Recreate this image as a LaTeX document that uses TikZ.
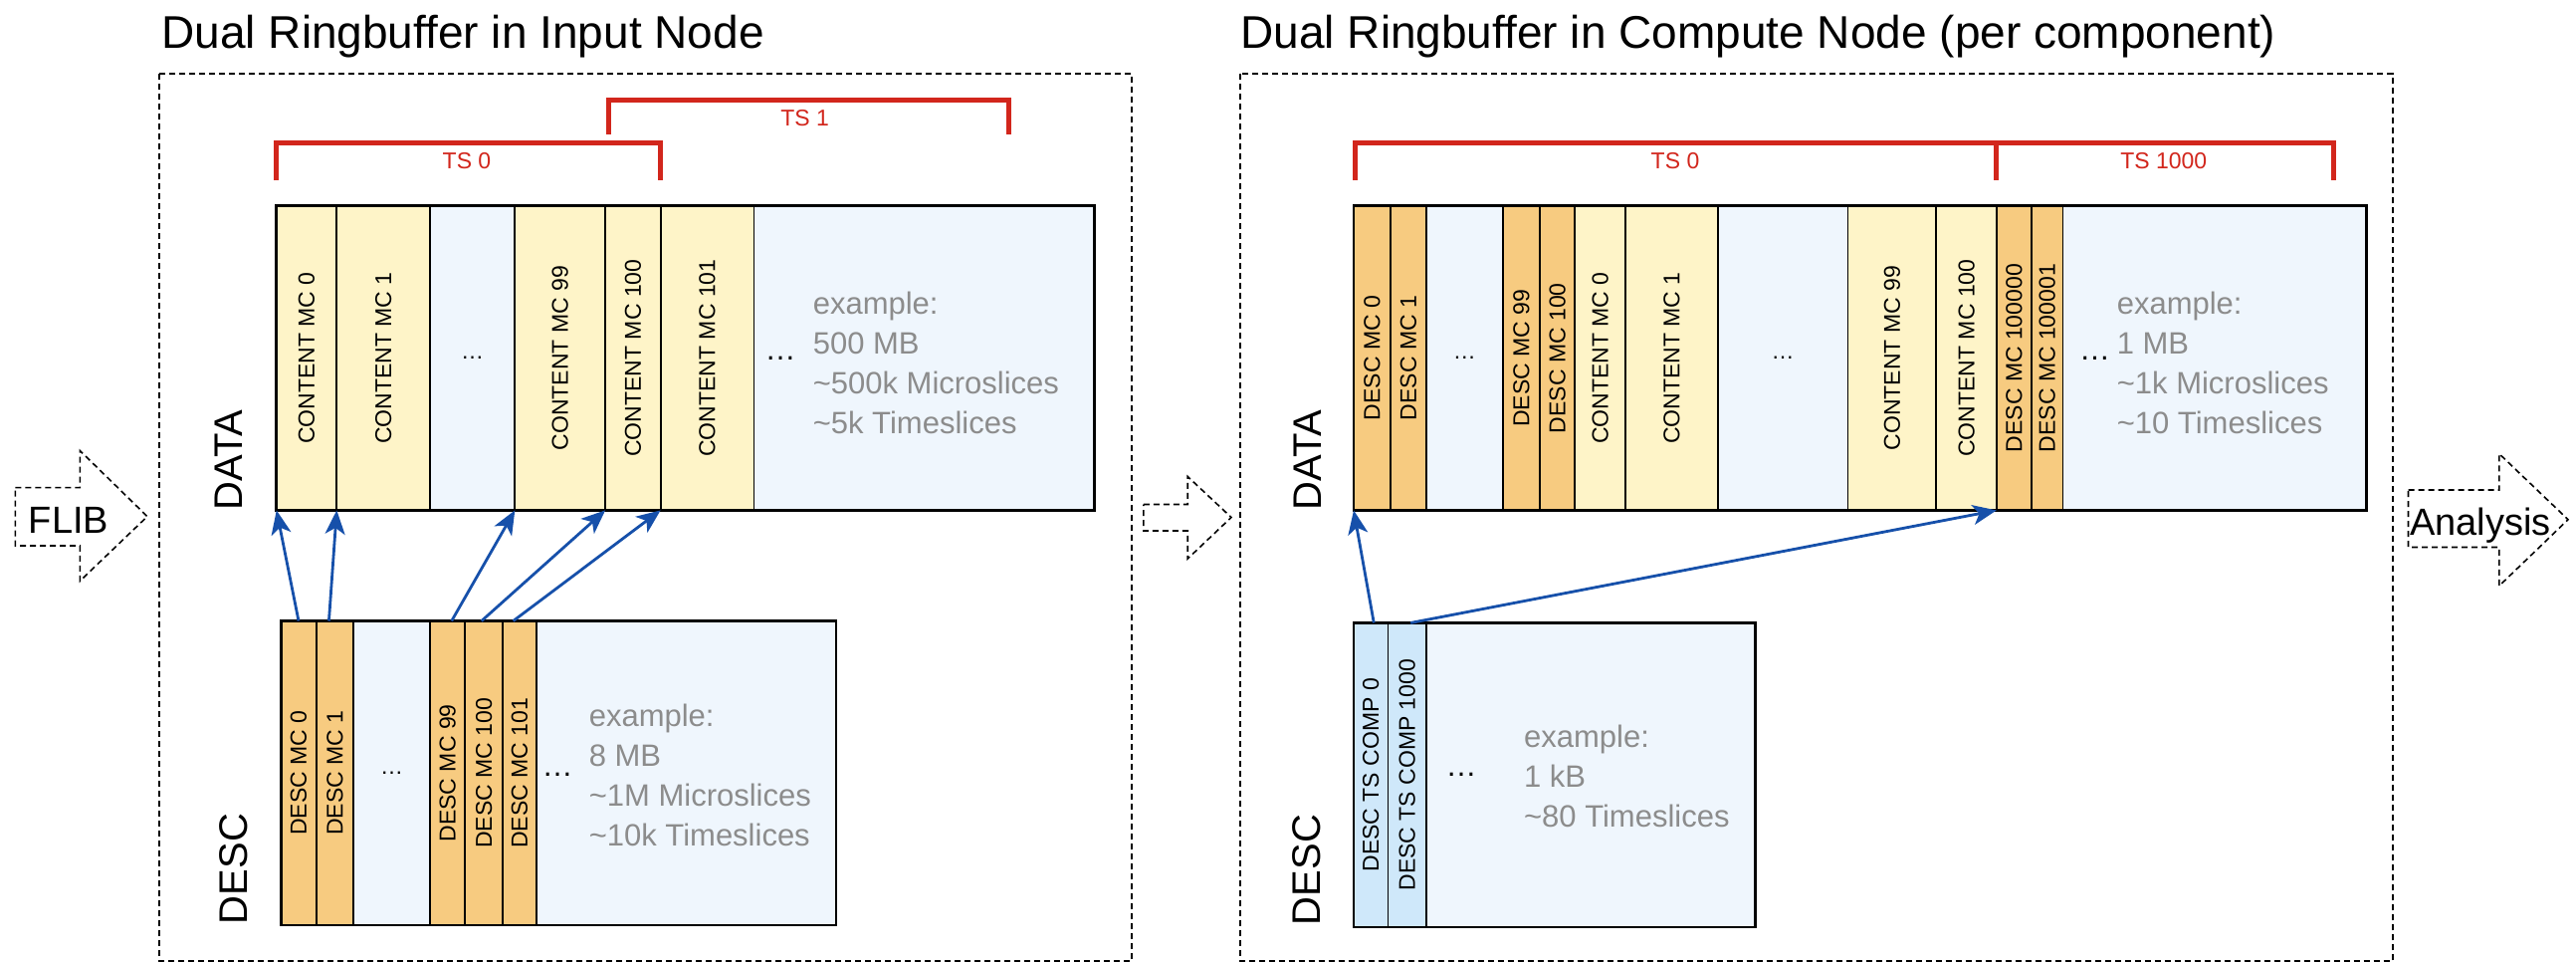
\documentclass[tikz,border=0pt]{standalone}
\usepackage{fontspec}
\setmainfont{Liberation Sans}
\usetikzlibrary{arrows.meta}
\definecolor{cyel}{HTML}{FEF4C8}
\definecolor{corg}{HTML}{F7CB80}
\definecolor{cbg}{HTML}{EFF6FD}
\definecolor{cdts}{HTML}{CFE8FA}
\definecolor{cred}{HTML}{D2261C}
\definecolor{cblue}{HTML}{1650AA}
\definecolor{cgray}{HTML}{8C8C8C}
\newcommand\vtext[1]{\rotatebox{90}{#1}}
\newcommand\mkcell[7]{\node[cell,#6,minimum width={(#3-#2)*0.25pt},minimum height={(#5-#4)*0.25pt}] (#1) at ({(#2+#3)/2},{(#4+#5)/2}) {#7};}
\tikzset{
 cell/.style={draw=black, line width=0.45pt, inner sep=0pt, outer sep=0pt, font=\fontsize{5.75}{6}\selectfont},
 ylw/.style={fill=cyel}, org/.style={fill=corg}, bgc/.style={fill=cbg}, dts/.style={fill=cdts},
 boxline/.style={draw=black, line width=0.7pt},
 arr/.style={draw=cblue, line width=0.7pt, -{Stealth[length=6pt,width=5pt,inset=1.6pt]}},
 bracket/.style={draw=cred, line width=1.25pt},
 tslabel/.style={text=cred, font=\fontsize{5.75}{7}\selectfont, inner sep=0pt},
 frame/.style={draw=black, line width=0.4pt, dash pattern=on 1.5pt off 1pt},
 bigarrow/.style={draw=black, line width=0.4pt, dash pattern=on 1.5pt off 1pt},
 title/.style={font=\fontsize{11.5}{14}\selectfont, anchor=base west, inner sep=0pt},
 side/.style={font=\fontsize{10}{12}\selectfont, anchor=south east, inner sep=0pt},
 example/.style={font=\fontsize{7.75}{10}\selectfont, text=cgray, align=left, anchor=west, inner sep=0pt},
 dotsn/.style={font=\fontsize{7.75}{10}\selectfont, inner sep=0pt},
 flow/.style={font=\fontsize{9.5}{11}\selectfont, anchor=base, inner sep=0pt},
}
\begin{document}
\begin{tikzpicture}[x=0.25pt,y=-0.25pt]
\useasboundingbox (0,0) rectangle (2588,968);
\fill[white] (0,0) rectangle (2588,968);

% titles
\node[title] (t1) at (161.7,48) {Dual Ringbuffer in Input Node};
\node[title] (t2) at (1245.7,48) {Dual Ringbuffer in Compute Node (per component)};

% frames
\draw[frame] (160,74) rectangle (1137,965);
\draw[frame] (1245.7,74) rectangle (2404,965);

% flow arrows
\draw[bigarrow] (15.4,489.6) -- (80.3,489.6) -- (80.3,452.5) -- (148,518.6) -- (80.3,583.4) -- (80.3,548) -- (15.4,548) -- cycle;
\node[flow] (flib) at (69,535) {FLIB};
\draw[bigarrow] (1148.8,506.5) -- (1193.2,506.5) -- (1193.2,478.5) -- (1237,519.5) -- (1193.2,561) -- (1193.2,533) -- (1148.8,533) -- cycle;
\draw[bigarrow] (2419.5,492) -- (2510.8,492) -- (2510.8,455.6) -- (2580,521.7) -- (2510.8,588.3) -- (2510.8,549.5) -- (2419.5,549.5) -- cycle;
\node[flow] (ana) at (2492,537) {Analysis};

% ---------- left panel ----------
% brackets
\draw[bracket] (277.8,181) -- (277.8,143.8) -- (663.6,143.8) -- (663.6,181);
\node[tslabel] (lts0) at (469,162) {TS 0};
\draw[bracket] (611,134.6) -- (611,100.6) -- (1013,100.6) -- (1013,134.6);
\node[tslabel] (lts1) at (808.7,118.5) {TS 1};

% data box
\mkcell{cmc0}{277.8}{338.3}{206.8}{512.4}{ylw}{\vtext{CONTENT MC 0}}
\mkcell{cmc1}{338.3}{432.1}{206.8}{512.4}{ylw}{\vtext{CONTENT MC 1}}
\mkcell{lde1}{432.1}{517.3}{206.8}{512.4}{bgc}{…}
\mkcell{cmc99}{517.3}{608.1}{206.8}{512.4}{ylw}{\vtext{CONTENT MC 99}}
\mkcell{cmc100}{608.1}{663.6}{206.8}{512.4}{ylw}{\vtext{CONTENT MC 100}}
\mkcell{cmc101}{663.6}{757.5}{206.8}{512.4}{ylw}{\vtext{CONTENT MC 101}}
\mkcell{lrest}{757.5}{1099.4}{206.8}{512.4}{bgc}{}
\draw[boxline] (cmc0.north west) rectangle (lrest.south east);
\node[dotsn] (lde2) at (784,360) {…};
\node[example] (lex1) at (816,364) {example:\\500 MB\\\textasciitilde 500k Microslices\\\textasciitilde 5k Timeslices};
\node[side] (ldata) at (244,513) {\vtext{DATA}};

% desc box
\mkcell{dmc0}{282.1}{317.9}{623.5}{929}{org}{\vtext{DESC MC 0}}
\mkcell{dmc1}{317.9}{355}{623.5}{929}{org}{\vtext{DESC MC 1}}
\mkcell{lde3}{355}{432.1}{623.5}{929}{bgc}{…}
\mkcell{dmc99}{432.1}{467.3}{623.5}{929}{org}{\vtext{DESC MC 99}}
\mkcell{dmc100}{467.3}{505}{623.5}{929}{org}{\vtext{DESC MC 100}}
\mkcell{dmc101}{505}{539}{623.5}{929}{org}{\vtext{DESC MC 101}}
\mkcell{ldrest}{539}{840}{623.5}{929}{bgc}{}
\draw[boxline] (dmc0.north west) rectangle (ldrest.south east);
\node[dotsn] (lde4) at (560,778) {…};
\node[example] (lex2) at (591,778.5) {example:\\8 MB\\\textasciitilde 1M Microslices\\\textasciitilde 10k Timeslices};
\node[side] (ldesc) at (250,929) {\vtext{DESC}};

% pointers
\draw[arr] (dmc0.north) -- (cmc0.south west);
\draw[arr] ([xshift=-1.5pt]dmc1.north) -- (cmc1.south west);
\draw[arr] ([xshift=1pt]dmc99.north) -- (cmc99.south west);
\draw[arr] ([xshift=-0.6pt]dmc100.north) -- (cmc100.south west);
\draw[arr] ([xshift=-1.6pt]dmc101.north) -- (cmc101.south west);

% ---------- right panel ----------
\draw[bracket] (1361.8,181) -- (1361.8,143.8) -- (2344,143.8) -- (2344,181);
\draw[bracket] (2005.8,143.8) -- (2005.8,181);
\node[tslabel] (rts0) at (1683,162) {TS 0};
\node[tslabel] (rts1000) at (2173.8,162) {TS 1000};

\mkcell{rdmc0}{1360}{1397}{206.8}{512.4}{org}{\vtext{DESC MC 0}}
\mkcell{rdmc1}{1397}{1432.8}{206.8}{512.4}{org}{\vtext{DESC MC 1}}
\mkcell{rde1}{1432.8}{1510}{206.8}{512.4}{bgc}{…}
\mkcell{rdmc99}{1510}{1547}{206.8}{512.4}{org}{\vtext{DESC MC 99}}
\mkcell{rdmc100}{1547}{1582.2}{206.8}{512.4}{org}{\vtext{DESC MC 100}}
\mkcell{rcmc0}{1582.2}{1633}{206.8}{512.4}{ylw}{\vtext{CONTENT MC 0}}
\mkcell{rcmc1}{1633}{1726}{206.8}{512.4}{ylw}{\vtext{CONTENT MC 1}}
\mkcell{rde2}{1726}{1856.4}{206.8}{512.4}{bgc}{…}
\mkcell{rcmc99}{1856.4}{1945.3}{206.8}{512.4}{ylw}{\vtext{CONTENT MC 99}}
\mkcell{rcmc100}{1945.3}{2005.8}{206.8}{512.4}{ylw}{\vtext{CONTENT MC 100}}
\mkcell{rdmcA}{2005.8}{2041}{206.8}{512.4}{org}{\vtext{DESC MC 100000}}
\mkcell{rdmcB}{2041}{2072.5}{206.8}{512.4}{org}{\vtext{DESC MC 100001}}
\mkcell{rrest}{2072.5}{2377.5}{206.8}{512.4}{bgc}{}
\draw[boxline] (rdmc0.north west) rectangle (rrest.south east);
\node[dotsn] (rde3) at (2104.6,360) {…};
\node[example] (rex1) at (2126,364) {example:\\1 MB\\\textasciitilde 1k Microslices\\\textasciitilde 10 Timeslices};
\node[side] (rdata) at (1327.8,513) {\vtext{DATA}};

\mkcell{dtc0}{1360}{1394.5}{625.4}{931}{dts}{\vtext{DESC TS COMP 0}}
\mkcell{dtc1000}{1394.5}{1432.8}{625.4}{931}{dts}{\vtext{DESC TS COMP 1000}}
\mkcell{rdrest}{1432.8}{1763.8}{625.4}{931}{bgc}{}
\draw[boxline] (dtc0.north west) rectangle (rdrest.south east);
\node[dotsn] (rde4) at (1468,778) {…};
\node[example] (rex2) at (1530.3,779) {example:\\1 kB\\\textasciitilde 80 Timeslices};
\node[side] (rdesc) at (1328,930) {\vtext{DESC}};

\draw[arr] ([xshift=0.75pt]dtc0.north) -- (rdmc0.south west);
\draw[arr] ([xshift=0.9pt]dtc1000.north) -- (rdmcA.south west);
\end{tikzpicture}
\end{document}
